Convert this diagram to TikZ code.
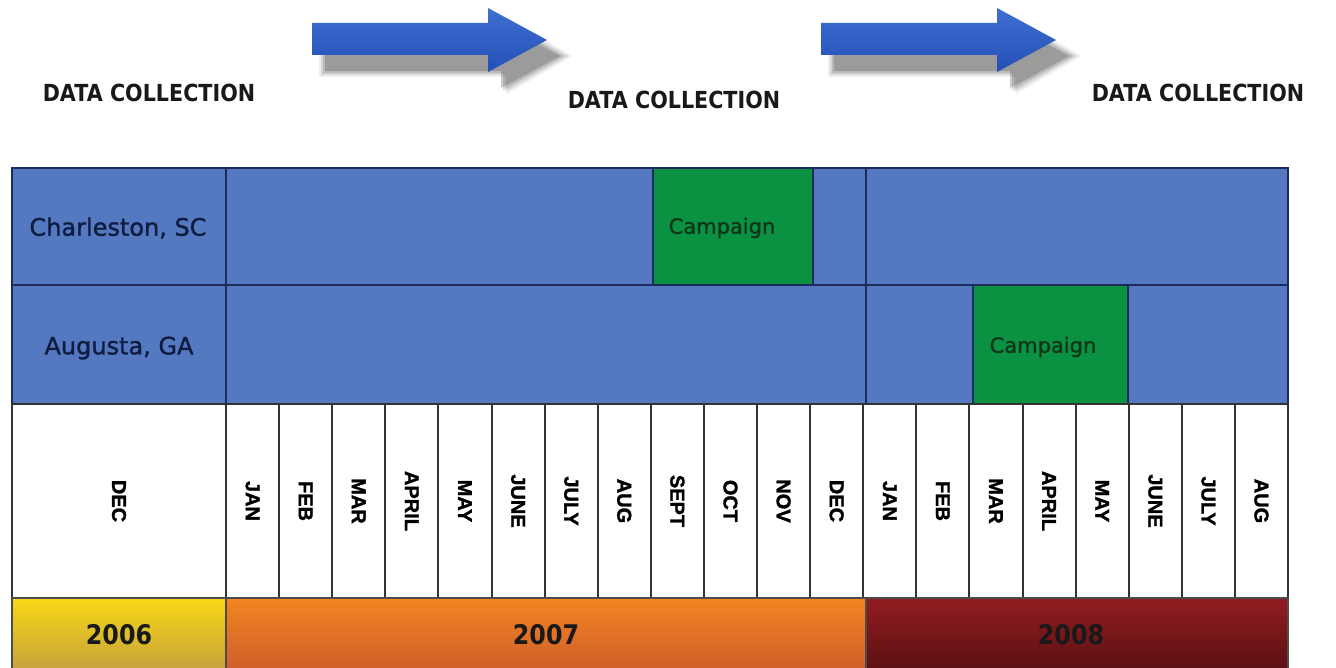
\documentclass[tikz,border=0pt]{standalone}
\usepackage{fontspec}
\setmainfont{DejaVu Sans}
\newfontfamily\headfont[FakeStretch=0.88]{DejaVu Sans}
\newfontfamily\placefont[FakeBold=1.2]{DejaVu Sans}
\newfontfamily\monthfont[FakeBold=1.5]{Liberation Sans}
\definecolor{cellblue}{HTML}{5479C0}
\definecolor{gridnavy}{HTML}{1B2C5C}
\definecolor{campgreen}{HTML}{0B9142}
\definecolor{labelnavy}{HTML}{0F1C40}
\definecolor{campink}{HTML}{113519}
\definecolor{arrowtop}{HTML}{3E6FD0}
\definecolor{arrowbot}{HTML}{2450B8}
\definecolor{yellowtop}{HTML}{F8D816}
\definecolor{yellowbot}{HTML}{C6A23C}
\definecolor{orangetop}{HTML}{F38522}
\definecolor{orangebot}{HTML}{CF5E2A}
\definecolor{redtop}{HTML}{921C20}
\definecolor{redbot}{HTML}{5C1012}
\tikzset{
  cellbox/.style={rectangle, anchor=north west, inner sep=0pt, outer sep=0pt},
  bluecell/.style={cellbox, fill=cellblue, draw=gridnavy, line width=2pt},
  greencell/.style={cellbox, fill=campgreen, draw=gridnavy, line width=2pt},
  monthcell/.style={cellbox, fill=white, draw=black!80, line width=2pt},
  yearcell/.style={cellbox, draw=black!70, line width=2pt},
  placetext/.style={font=\placefont\fontsize{24}{28}\selectfont, text=labelnavy, inner sep=0pt},
  camptext/.style={font=\placefont\fontsize{21}{25}\selectfont, text=campink, inner sep=0pt},
  monthtext/.style={font=\monthfont\bfseries\fontsize{20}{22}\selectfont, text=black, inner sep=0pt, rotate=-90},
  yeartext/.style={font=\headfont\bfseries\fontsize{27}{30}\selectfont, text=black!90, inner sep=0pt},
  headtext/.style={font=\headfont\bfseries\fontsize{23.5}{28}\selectfont, text=black!90, inner sep=0pt},
}
% big right-pointing arrow with a soft drop shadow; #1 = horizontal shift
\newcommand\timearrow[1]{%
  \begin{scope}[xshift=#1]
    \foreach \d/\o in {0/0.30,2/0.22,4/0.16,6/0.10} {
      \fill[black!65, opacity=\o]
        (325-\d,41-\d) -- (501+\d,41-\d) -- (501+\d,24-\d) -- (560+2*\d,56) --
        (501+\d,88+\d) -- (501+\d,71+\d) -- (325-\d,71+\d) -- cycle;
    }
    \shade[top color=arrowtop, bottom color=arrowbot]
      (312,23) -- (488,23) -- (488,8) -- (547,40) -- (488,72) -- (488,55) -- (312,55) -- cycle;
  \end{scope}}
\begin{document}
\begin{tikzpicture}[x=1pt,y=-1pt]
\useasboundingbox (0,0) rectangle (1336,668);
\fill[white] (0,0) rectangle (1336,668);

% arrows and headings
\timearrow{0}
\timearrow{509}
\node[headtext] (h1) at (149,93) {DATA COLLECTION};
\node[headtext] (h2) at (674,100) {DATA COLLECTION};
\node[headtext] (h3) at (1198,93) {DATA COLLECTION};

% site rows
\node[bluecell, minimum width=214, minimum height=117] (charl) at (12,168) {};
\node[bluecell, minimum width=214, minimum height=119] (augus) at (12,285) {};
\node[placetext] (charlt) at (118,228) {Charleston, SC};
\node[placetext] (august) at (119,348) {Augusta, GA};

\node[bluecell, minimum width=640, minimum height=117] (r1a) at (226,168) {};
\node[bluecell, minimum width=422, minimum height=117] (r1b) at (866,168) {};
\node[greencell, minimum width=160, minimum height=117] (c1) at (653,168) {};
\node[camptext] (c1t) at (722,228) {Campaign};

\node[bluecell, minimum width=640, minimum height=119] (r2a) at (226,285) {};
\node[bluecell, minimum width=422, minimum height=119] (r2b) at (866,285) {};
\node[greencell, minimum width=155, minimum height=119] (c2) at (973,285) {};
\node[camptext] (c2t) at (1043,347) {Campaign};

% month row
\node[monthcell, minimum width=214, minimum height=194] (dec06) at (12,404) {};
\node[monthtext] (dec06t) at (dec06.center) {DEC};
\foreach \m [count=\i from 0] in {JAN,FEB,MAR,APRIL,MAY,JUNE,JULY,AUG,SEPT,OCT,NOV,DEC,JAN,FEB,MAR,APRIL,MAY,JUNE,JULY,AUG} {
  \node[monthcell, minimum width=53.1, minimum height=194] (m\i) at ({226+\i*53.1},404) {};
  \node[monthtext] (mt\i) at (m\i.center) {\m};
}

% year row
\node[yearcell, top color=yellowtop, bottom color=yellowbot, minimum width=214, minimum height=72] (y6) at (12,598) {};
\node[yearcell, top color=orangetop, bottom color=orangebot, minimum width=640, minimum height=72] (y7) at (226,598) {};
\node[yearcell, top color=redtop, bottom color=redbot, minimum width=422, minimum height=72] (y8) at (866,598) {};
\node[yeartext] (y6t) at (119,635) {2006};
\node[yeartext] (y7t) at (546,635) {2007};
\node[yeartext] (y8t) at (1071,635) {2008};
\end{tikzpicture}
\end{document}
